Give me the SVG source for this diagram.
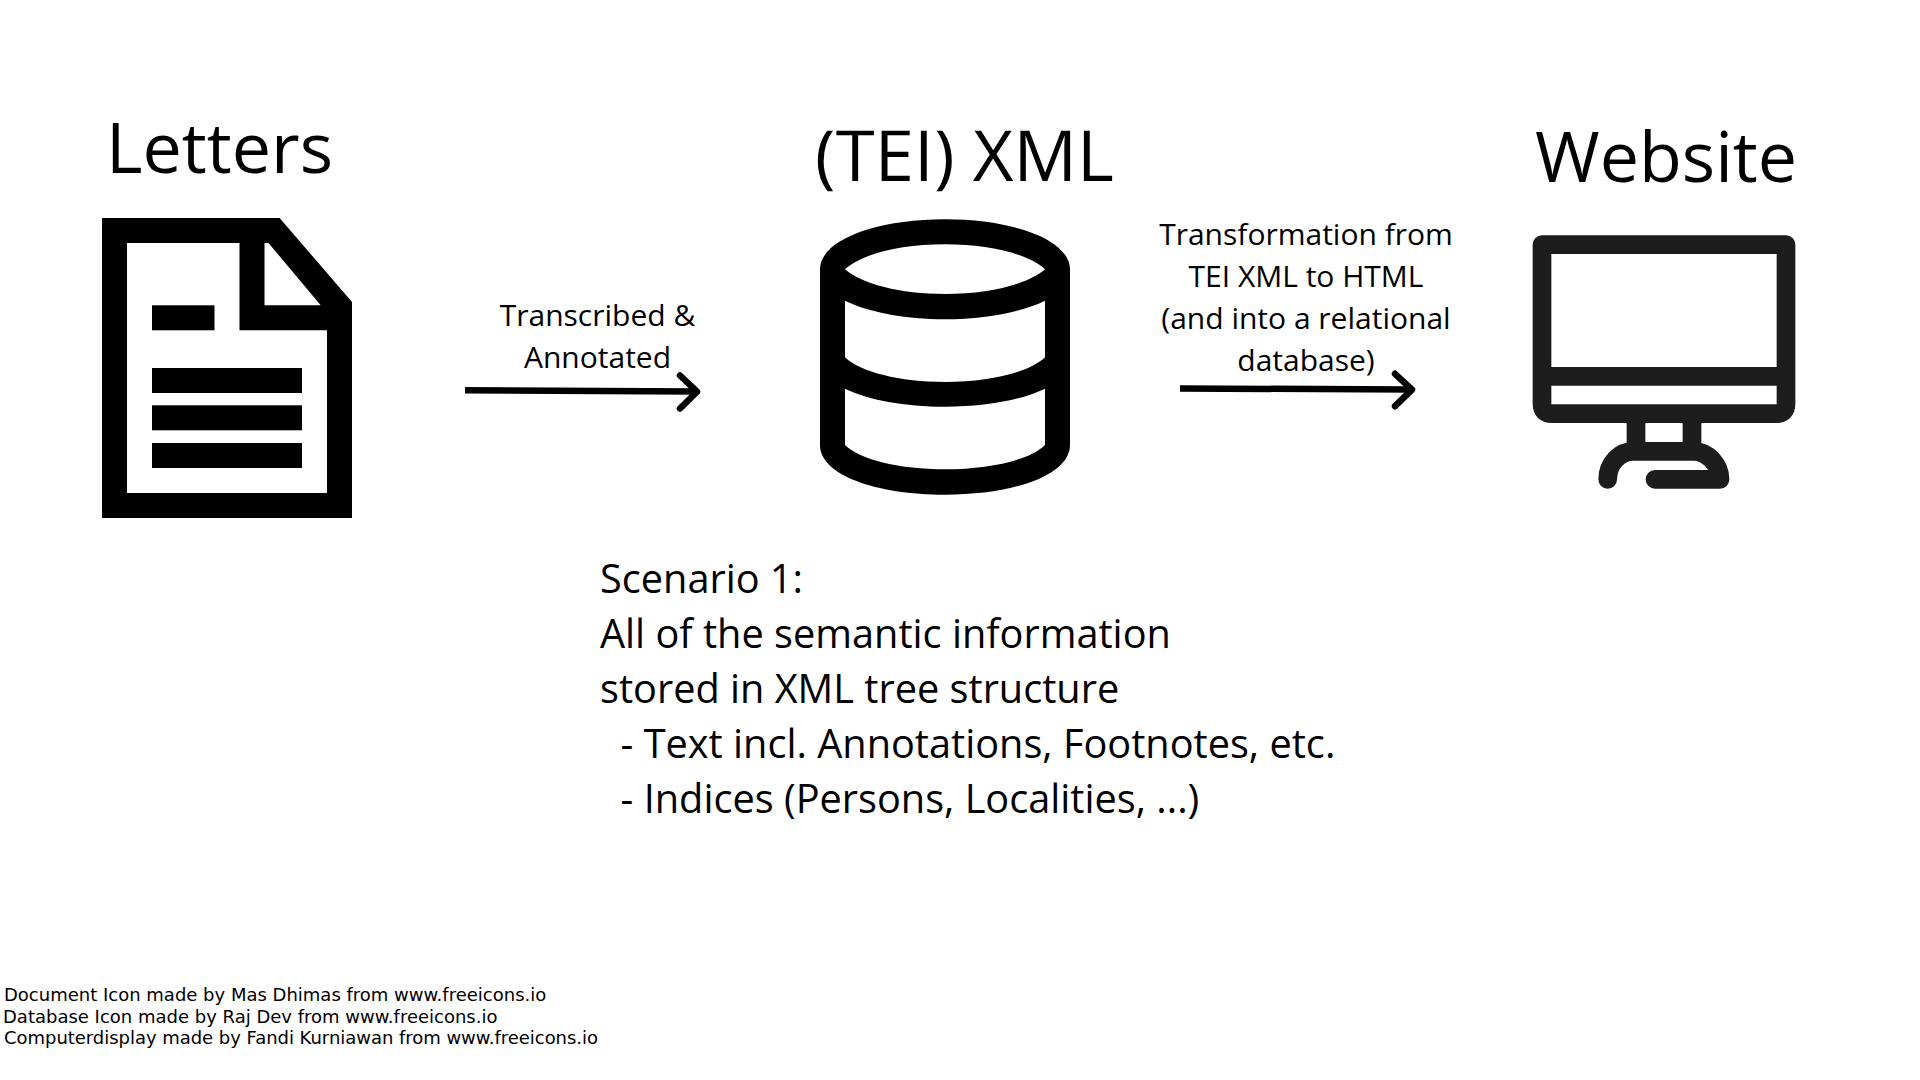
<svg xmlns="http://www.w3.org/2000/svg" width="1920" height="1080" viewBox="0 0 1920 1080">
<style>
text{font-family:"Open Sans","Noto Sans",sans-serif;fill:#000;white-space:pre}
.h{font-size:70px}
.l{font-size:30px;text-anchor:middle}
.s{font-size:39.7px}
.f{font-family:"DejaVu Sans",sans-serif;font-size:18px}
.shaft{fill:none;stroke:#000;stroke-width:6.5}
.head{fill:none;stroke:#000;stroke-width:6.5;stroke-linecap:round;stroke-linejoin:round}
.mon{fill:none;stroke:#1d1d1d;stroke-width:18.7;stroke-linecap:round;stroke-linejoin:round}
</style>
<defs><clipPath id="xmlclip"><rect x="800" y="130.7" width="340" height="60.5"/></clipPath></defs>
<rect width="1920" height="1080" fill="#fff"/>
<g id="letters">
<text class="h" x="106" y="172.7">Letters</text>
<path fill-rule="evenodd" d="M102 218H279.6L352 302V518H102ZM127 243V493H327V330.3H239.5V243ZM264.5 243V305.3H320.7L268.5 243Z"/>
<rect x="152" y="305.3" width="62.5" height="25"/>
<rect x="152" y="368" width="150" height="25"/>
<rect x="152" y="405.3" width="150" height="25"/>
<rect x="152" y="443" width="150" height="25"/>
</g>
<g id="xml">
<text class="h" x="815" y="180.6" style="font-size:70.6px" clip-path="url(#xmlclip)">(TEI) XML</text>
<path fill-rule="evenodd" d="M820 269.3C820 240 876 219.3 945 219.3C1014 219.3 1070 240 1070 269.3V445C1070 475 1014 494.7 945 494.7C876 494.7 820 475 820 445Z
M845 269.3C862 254 900 244.3 945 244.3C990 244.3 1028 254 1045 269.3C1028 284 990 294 945 294C900 294 862 284 845 269.3Z
M845 300.7C868 312 905 319.3 945 319.3C985 319.3 1022 312 1045 300.7V357.3C1030 372 990 382 945 382C900 382 860 372 845 357.3Z
M845 388.7C868 400 905 406.7 945 406.7C985 406.7 1022 400 1045 388.7V445C1030 460 990 469.3 945 469.3C900 469.3 860 460 845 445Z"/>
</g>
<g id="website">
<text class="h" x="1535" y="181.7">Website</text>
<path class="mon" d="M1542 244.6H1786V404Q1786 413.7 1776 413.7H1552Q1542 413.7 1542 404ZM1542 376.3H1786M1636 414V451.3M1692 414V451.3M1607.7 479.3C1607.7 463 1620 451.3 1633.3 451.3H1693.3C1708 451.3 1720 465 1720 479.3H1655"/>
</g>
<g id="connectors">
<path class="shaft" d="M465 390.2L696 391.6"/>
<path class="head" d="M680 375.5L697 391.7L680 408.5"/>
<path class="shaft" d="M1180 388.4L1410 389.6"/>
<path class="head" d="M1395 373.8L1412 389.6L1395 406.2"/>
</g>
<g id="labels">
<text class="l" x="597.5" y="326">Transcribed &amp;</text>
<text class="l" x="597.5" y="368">Annotated</text>
<text class="l" x="1306" y="245">Transformation from</text>
<text class="l" x="1306" y="287">TEI XML to HTML</text>
<text class="l" x="1306" y="329">(and into a relational</text>
<text class="l" x="1306" y="371">database)</text>
</g>
<g id="scenario">
<text class="s" x="600" y="592.7">Scenario 1:</text>
<text class="s" x="600" y="647.7">All of the semantic information</text>
<text class="s" x="600" y="702.5">stored in XML tree structure</text>
<text class="s" x="600" y="757.5">  - Text incl. Annotations, Footnotes, etc.</text>
<text class="s" x="600" y="812.7">  - Indices (Persons, Localities, ...)</text>
</g>
<g id="credits">
<text class="f" x="4" y="1000.7">Document Icon made by Mas Dhimas from www.freeicons.io</text>
<text class="f" x="3" y="1022.5">Database Icon made by Raj Dev from www.freeicons.io</text>
<text class="f" x="4" y="1043.5" textLength="594">Computerdisplay made by Fandi Kurniawan from www.freeicons.io</text>
</g>
</svg>
